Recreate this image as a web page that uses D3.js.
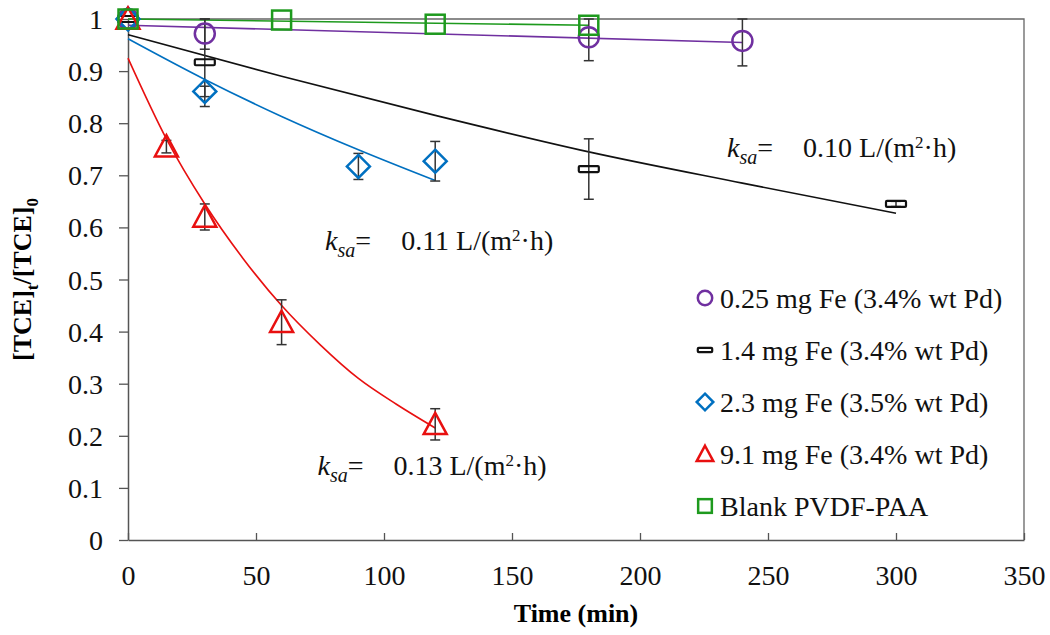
<!DOCTYPE html>
<html>
<head>
<meta charset="utf-8">
<script src="https://cdn.jsdelivr.net/npm/d3@7"></script>
<style>
  body { margin: 0; background: #fff; }
</style>
</head>
<body>
<svg id="chart"></svg>
<script>
// measured points
const fe025 = { t: [0, 30, 180, 240], c: [1.0, 0.972, 0.965, 0.958], err: [0, 0.03, 0.045, 0.048] };
const fe14 = { t: [0, 30, 180, 300], c: [1.0, 0.917, 0.712, 0.645], err: [0, 0.085, 0.058, 0.005] };
const fe23 = { t: [0, 30, 90, 120], c: [1.0, 0.861, 0.717, 0.727], err: [0, 0.01, 0.025, 0.038] };
const fe91 = { t: [0, 15, 30, 60, 120], c: [1.0, 0.755, 0.62, 0.418, 0.222], err: [0, 0.012, 0.025, 0.043, 0.03] };
const blank = { t: [0, 60, 120, 180], c: [1.0, 0.998, 0.99, 0.988], err: [0, 0, 0, 0] };

// fitted curves
const fit025 = { t: [0, 240], c: [0.988, 0.955] };
const fit14 = { t: [0, 60, 120, 180, 240, 300], c: [0.97, 0.89, 0.815, 0.745, 0.685, 0.627] };
const fit23 = { t: [0, 30, 60, 90, 120], c: [0.962, 0.884, 0.813, 0.749, 0.69] };
const fit91 = { t: [0, 15, 30, 45, 60, 75, 90, 105, 120], c: [0.925, 0.77, 0.645, 0.54, 0.45, 0.375, 0.31, 0.26, 0.215] };
const fitBlank = { t: [0, 180], c: [1.0, 0.988] };

const legendLabels = ["0.25 mg Fe (3.4% wt Pd)", "1.4 mg Fe (3.4% wt Pd)", "2.3 mg Fe (3.5% wt Pd)", "9.1 mg Fe (3.4% wt Pd)", "Blank PVDF-PAA"];
const xTicks = [0, 50, 100, 150, 200, 250, 300, 350];
const yTicks = [0, 0.1, 0.2, 0.3, 0.4, 0.5, 0.6, 0.7, 0.8, 0.9, 1];
const ksaLabels = [
  { t: 234, c: 0.735, v: "0.10 L/(m" },
  { t: 77, c: 0.557, v: "0.11 L/(m" },
  { t: 74, c: 0.125, v: "0.13 L/(m" }
];

const FONT = "Liberation Serif, Times New Roman, serif";
const width = 1050, height = 635;
const margin = { top: 19, right: 26, bottom: 95, left: 128 };
const iw = width - margin.left - margin.right;
const ih = height - margin.top - margin.bottom;

const svg = d3.select("#chart").attr("width", width).attr("height", height)
  .attr("font-family", FONT);
const chart = svg.append("g").attr("transform", `translate(${margin.left},${margin.top})`);

const x = d3.scaleLinear().domain([0, 350]).range([0, iw]);
const y = d3.scaleLinear().domain([0, 1]).range([ih, 0]);

// frame (top + right)
chart.append("path")
  .attr("d", `M0,0H${iw}V${ih}`)
  .attr("fill", "none").attr("stroke", "#666").attr("stroke-width", 1.3);

// axes
const xAxis = chart.append("g")
  .attr("transform", `translate(0,${ih})`)
  .call(d3.axisBottom(x).tickValues(xTicks).tickSizeInner(-7).tickSizeOuter(0).tickPadding(25));
const yAxis = chart.append("g")
  .call(d3.axisLeft(y).tickValues(yTicks).tickFormat(d3.format("")).tickSizeInner(9).tickSizeOuter(0).tickPadding(16));
[xAxis, yAxis].forEach(a => {
  a.attr("font-family", FONT).attr("font-size", 28);
  a.select(".domain").attr("stroke", "#555").attr("stroke-width", 1.5);
  a.selectAll(".tick line").attr("stroke", "#555").attr("stroke-width", 1.3);
  a.selectAll("text").attr("fill", "#111");
});
xAxis.selectAll("text").attr("dy", "0.71em");
yAxis.selectAll("text").attr("dy", "0.34em");

// axis titles
svg.append("text")
  .attr("x", margin.left + x(175)).attr("y", 622)
  .attr("text-anchor", "middle")
  .attr("font-size", 26).attr("font-weight", "bold")
  .text("Time (min)");

const yt = svg.append("text")
  .attr("transform", `translate(31,${margin.top + y(0.5)}) rotate(-90)`)
  .attr("text-anchor", "middle")
  .attr("font-size", 26).attr("font-weight", "bold");
yt.append("tspan").text("[TCE]");
yt.append("tspan").attr("dy", 7).attr("font-size", 17).text("t");
yt.append("tspan").attr("dy", -7).text("/[TCE]");
yt.append("tspan").attr("dy", 7).attr("font-size", 17).text("0");

// series definitions
const series = [
  { data: fe025, fit: fit025, color: "#7030A0", shape: "circle" },
  { data: fe14, fit: fit14, color: "#111", shape: "dash" },
  { data: fe23, fit: fit23, color: "#0070C0", shape: "diamond" },
  { data: fe91, fit: fit91, color: "#E81010", shape: "triangle" },
  { data: blank, fit: fitBlank, color: "#1E9A1E", shape: "square" }
];

function drawMarker(g, shape, color, cx, cy, s) {
  s = s || 1;
  if (shape === "circle") {
    g.append("circle").attr("cx", cx).attr("cy", cy).attr("r", 10 * s)
      .attr("fill", "none").attr("stroke", color).attr("stroke-width", 2.5);
  } else if (shape === "dash") {
    g.append("rect").attr("x", cx - 10 * s).attr("y", cy - 3 * s).attr("width", 20 * s).attr("height", 6 * s)
      .attr("rx", 1).attr("fill", "none").attr("stroke", color).attr("stroke-width", 2.2);
  } else if (shape === "diamond") {
    const r = 11.5 * s;
    g.append("path").attr("d", `M${cx},${cy - r}L${cx + r},${cy}L${cx},${cy + r}L${cx - r},${cy}Z`)
      .attr("fill", "none").attr("stroke", color).attr("stroke-width", 2.5);
  } else if (shape === "triangle") {
    const r = 11.5 * s;
    g.append("path").attr("d", `M${cx},${cy - r}L${cx + r},${cy + r * 0.85}L${cx - r},${cy + r * 0.85}Z`)
      .attr("fill", "none").attr("stroke", color).attr("stroke-width", 2.5);
  } else if (shape === "square") {
    const r = 9.5 * s;
    g.append("rect").attr("x", cx - r).attr("y", cy - r).attr("width", 2 * r).attr("height", 2 * r)
      .attr("fill", "none").attr("stroke", color).attr("stroke-width", 2.5);
  }
}

// fit lines
const line = d3.line().x(d => x(d[0])).y(d => y(d[1])).curve(d3.curveMonotoneX);
series.forEach(s => {
  chart.append("path")
    .datum(s.fit.t.map((t, i) => [t, s.fit.c[i]]))
    .attr("fill", "none").attr("stroke", s.color).attr("stroke-width", 1.6)
    .attr("d", line);
});

// error bars
series.forEach(s => {
  s.data.t.forEach((t, i) => {
    const e = s.data.err[i];
    if (!e) return;
    const cx = x(t), y1 = y(Math.min(1, s.data.c[i] + e)), y2 = y(s.data.c[i] - e);
    const g = chart.append("g").attr("stroke", "#333").attr("stroke-width", 1.5);
    g.append("line").attr("x1", cx).attr("x2", cx).attr("y1", y1).attr("y2", y2);
    g.append("line").attr("x1", cx - 5).attr("x2", cx + 5).attr("y1", y1).attr("y2", y1);
    g.append("line").attr("x1", cx - 5).attr("x2", cx + 5).attr("y1", y2).attr("y2", y2);
  });
});

// markers
series.forEach(s => {
  const g = chart.append("g");
  s.data.t.forEach((t, i) => drawMarker(g, s.shape, s.color, x(t), y(s.data.c[i])));
});

// ksa annotations
ksaLabels.forEach(k => {
  const tx = chart.append("text")
    .attr("x", x(k.t)).attr("y", y(k.c))
    .attr("font-size", 28).attr("fill", "#111");
  tx.append("tspan").attr("font-style", "italic").text("k");
  tx.append("tspan").attr("dy", 7).attr("font-style", "italic").attr("font-size", 20).text("sa");
  tx.append("tspan").attr("dy", -7).text("=");
  tx.append("tspan").attr("dx", 30).text(k.v);
  tx.append("tspan").attr("dy", -9).attr("font-size", 17).text("2");
  tx.append("tspan").attr("dy", 9).text("·h)");
});

// legend
const legend = svg.append("g").attr("transform", "translate(705,298)");
legendLabels.forEach((lab, i) => {
  const g = legend.append("g").attr("transform", `translate(0,${i * 52})`);
  drawMarker(g, series[i].shape, series[i].color, 0, 0, 0.72);
  g.append("text").attr("x", 15).attr("y", 0).attr("dy", "0.34em")
    .attr("font-size", 28).attr("fill", "#111").text(lab);
});
</script>
</body>
</html>
